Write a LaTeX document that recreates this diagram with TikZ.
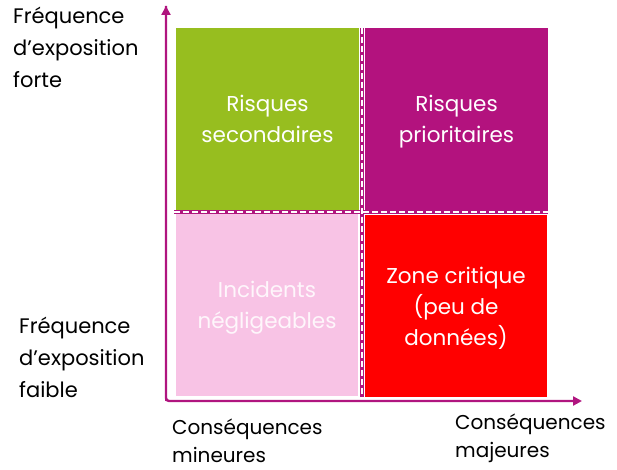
\documentclass[tikz,border=0pt]{standalone}
\usepackage{fontspec}
\setmainfont{Poppins}
\usepackage{tikz}
\usetikzlibrary{arrows.meta,positioning}
\definecolor{axecol}{HTML}{B0157F}
\definecolor{vert}{HTML}{97BE1F}
\definecolor{magenta}{HTML}{B3127E}
\definecolor{rose}{HTML}{F8C3E5}
\definecolor{rouge}{HTML}{FF0000}
\tikzset{
  zone/.style={rectangle,inner sep=0pt,text=white,align=center,text depth=0pt,
    font=\fontsize{21.5}{31}\selectfont},
  label/.style={inner sep=0pt,align=left,font=\fontsize{21}{32}\selectfont},
  axe/.style={draw=axecol,line width=2.4pt,-{Triangle[length=9pt,width=9pt]}},
  sep/.style={draw=axecol,line width=3.5pt},
  sepw/.style={draw=white,line width=1.8pt,dash pattern=on 6pt off 3pt}
}
\begin{document}
\begin{tikzpicture}[x=1pt,y=-1pt]
    \useasboundingbox (0,0) rectangle (617,470);
    % quadrants
    \node[zone,fill=vert,minimum width=183pt,minimum height=182pt] at (267.5,119) (sec) {Risques\\secondaires};
    \node[zone,fill=magenta,minimum width=183pt,minimum height=182pt] at (456.5,119) (prio) {Risques\\prioritaires};
    \node[zone,fill=rose,minimum width=182pt,minimum height=183pt,text=white!85!rose] at (267,304.5) (neg) {Incidents\\négligeables};
    \node[zone,fill=rouge,minimum width=182pt,minimum height=182pt] at (456,306) (crit) {Zone critique\\(peu de\\données)};
    % separations
    \coordinate (vh) at (362,28);
    \coordinate (vb) at (362,397);
    \coordinate (hg) at (174,212);
    \coordinate (hd) at (548,212);
    \draw[sep] (vh) -- (vb);
    \draw[sep] (hg) -- (hd);
    \draw[sepw] (vh) -- (vb);
    \draw[sepw] (hg) -- (hd);
    % axes
    \coordinate (o) at (166,401);
    \coordinate (yh) at (166,6);
    \coordinate (xd) at (582,401);
    \draw[axe,rounded corners=3pt] (yh) -- (o) -- (xd);
    \draw[axe] (o) -- (yh);
    % labels
    \node[label,anchor=west] at (13,47) (forte) {Fréquence\\d’exposition\\forte};
    \node[label,anchor=west] at (19,357) (faible) {Fréquence\\d’exposition\\faible};
    \node[label,anchor=west,font=\fontsize{20}{28}\selectfont] at (172,441) (min) {Conséquences\\mineures};
    \node[label,anchor=west,font=\fontsize{20}{28}\selectfont] at (455,438) (maj) {Conséquences\\majeures};
  \end{tikzpicture}
\end{document}
